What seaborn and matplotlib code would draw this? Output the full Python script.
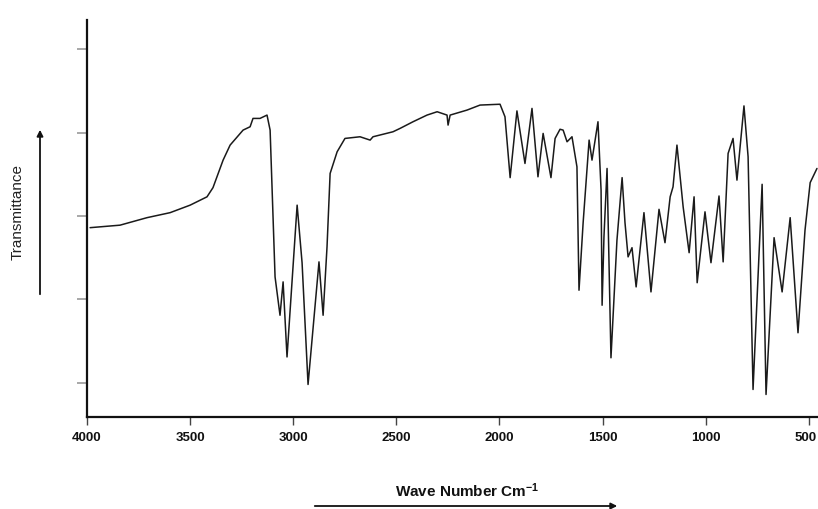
import matplotlib
matplotlib.use("Agg")
import matplotlib.pyplot as plt
import matplotlib.transforms as mtransforms
import seaborn as sns
import pandas as pd

# Wavenumber (cm^-1) and transmittance (arbitrary units)
wavenumber = [3985, 3840, 3709, 3597, 3500, 3418, 3389, 3340, 3306, 3243,
              3209, 3195, 3161, 3127, 3112, 3088, 3064, 3049, 3030, 2981,
              2957, 2928, 2875, 2855, 2836, 2821, 2787, 2749, 2676, 2627,
              2613, 2516, 2482, 2419, 2351, 2302, 2254, 2249, 2239, 2157,
              2094, 1997, 1973, 1948, 1915, 1876, 1842, 1813, 1788, 1750,
              1730, 1706, 1691, 1672, 1648, 1624, 1614, 1594, 1565, 1551,
              1522, 1507, 1502, 1493, 1478, 1459, 1430, 1405, 1391, 1376,
              1357, 1337, 1299, 1265, 1226, 1197, 1172, 1158, 1139, 1109,
              1080, 1056, 1041, 1003, 974, 935, 915, 891, 867, 848,
              814, 794, 770, 726, 707, 668, 629, 590, 552, 518,
              493, 460]
transmittance = [28.6, 28.9, 29.8, 30.4, 31.3, 32.3, 33.4, 36.7, 38.5, 40.3,
                 40.7, 41.7, 41.7, 42.1, 40.3, 22.7, 18.1, 22.1, 13.1, 31.3,
                 24.4, 9.8, 24.5, 18.1, 26.3, 35.1, 37.7, 39.3, 39.5, 39.1,
                 39.5, 40.1, 40.5, 41.3, 42.1, 42.5, 42.1, 40.9, 42.1, 42.7,
                 43.3, 43.4, 41.9, 34.6, 42.6, 36.3, 42.9, 34.7, 39.9, 34.6,
                 39.3, 40.4, 40.3, 38.9, 39.5, 35.9, 21.1, 29.2, 39.1, 36.7,
                 41.3, 33.1, 19.3, 27.5, 35.7, 13.0, 27.1, 34.6, 29.2, 25.1,
                 26.2, 21.5, 30.4, 20.9, 30.8, 26.8, 32.3, 33.5, 38.5, 31.1,
                 25.6, 32.3, 22.0, 30.5, 24.4, 32.4, 24.5, 37.5, 39.3, 34.3,
                 43.2, 37.1, 9.2, 33.8, 8.6, 27.4, 20.9, 29.8, 16.0, 28.3,
                 34.0, 35.7]

x_ticks = [4000, 3500, 3000, 2500, 2000, 1500, 1000, 500]
y_ticks = [10, 20, 30, 40, 50]

sns.set_style("white")
plt.rcParams["font.family"] = ["Liberation Sans", "DejaVu Sans"]
plt.rcParams["mathtext.fontset"] = "custom"
plt.rcParams["mathtext.rm"] = "Liberation Sans:bold"
plt.rcParams["mathtext.it"] = "Liberation Sans:bold"
plt.rcParams["mathtext.bf"] = "Liberation Sans:bold"

df = pd.DataFrame({"wn": wavenumber, "T": transmittance})

fig = plt.figure(figsize=(8.18, 5.09), dpi=100)
ax = fig.add_axes([87 / 818, 1 - 417 / 509, 1 - 87 / 818, (417 - 20) / 509])

sns.lineplot(data=df, x="wn", y="T", sort=False, ax=ax, color="#1a1a1a",
             linewidth=1.1, estimator=None)

ax.set_xlim(4000, 455)
ax.set_ylim(5.9, 53.5)
ax.set_xticks(x_ticks)
ax.set_xticklabels([str(t) for t in x_ticks], fontsize=9.5, fontweight="bold",
                   color="#111111")
ax.set_yticks(y_ticks)
ax.set_yticklabels([])
ax.tick_params(axis="x", direction="out", length=6, width=1.0, color="#444444",
               pad=5, bottom=True)
ax.tick_params(axis="y", direction="out", length=7.5, width=1.2, color="#999999",
               left=True)
ax.set_xlabel("")
ax.set_ylabel("")

# keep the last tick label inside the figure edge
last = ax.get_xticklabels()[-1]
last.set_transform(last.get_transform() +
                   mtransforms.ScaledTranslation(-3 / 100, 0, fig.dpi_scale_trans))

for side in ["top", "right"]:
    ax.spines[side].set_visible(False)
for side in ["left", "bottom"]:
    ax.spines[side].set_linewidth(1.6)
    ax.spines[side].set_color("#111111")

# Axis titles with arrows
fig.text(18 / 818, 1 - 212 / 509, "Transmittance", rotation=90, ha="center",
         va="center", fontsize=11, color="#222222")
fig.text(467 / 818, 1 - 491 / 509, "Wave Number Cm$^{-1}$", ha="center",
         va="center", fontsize=11, fontweight="bold", color="#111111")

fig.patches.append(matplotlib.patches.FancyArrowPatch(
    (40 / 818, 1 - 297 / 509), (40 / 818, 1 - 127 / 509),
    transform=fig.transFigure, arrowstyle="-|>", mutation_scale=9,
    color="#111111", linewidth=1.3))
fig.patches.append(matplotlib.patches.FancyArrowPatch(
    (312 / 818, 1 - 506 / 509), (620 / 818, 1 - 506 / 509),
    transform=fig.transFigure, arrowstyle="-|>", mutation_scale=9,
    color="#111111", linewidth=1.3))

fig.savefig("out.png", dpi=100, facecolor="white")
